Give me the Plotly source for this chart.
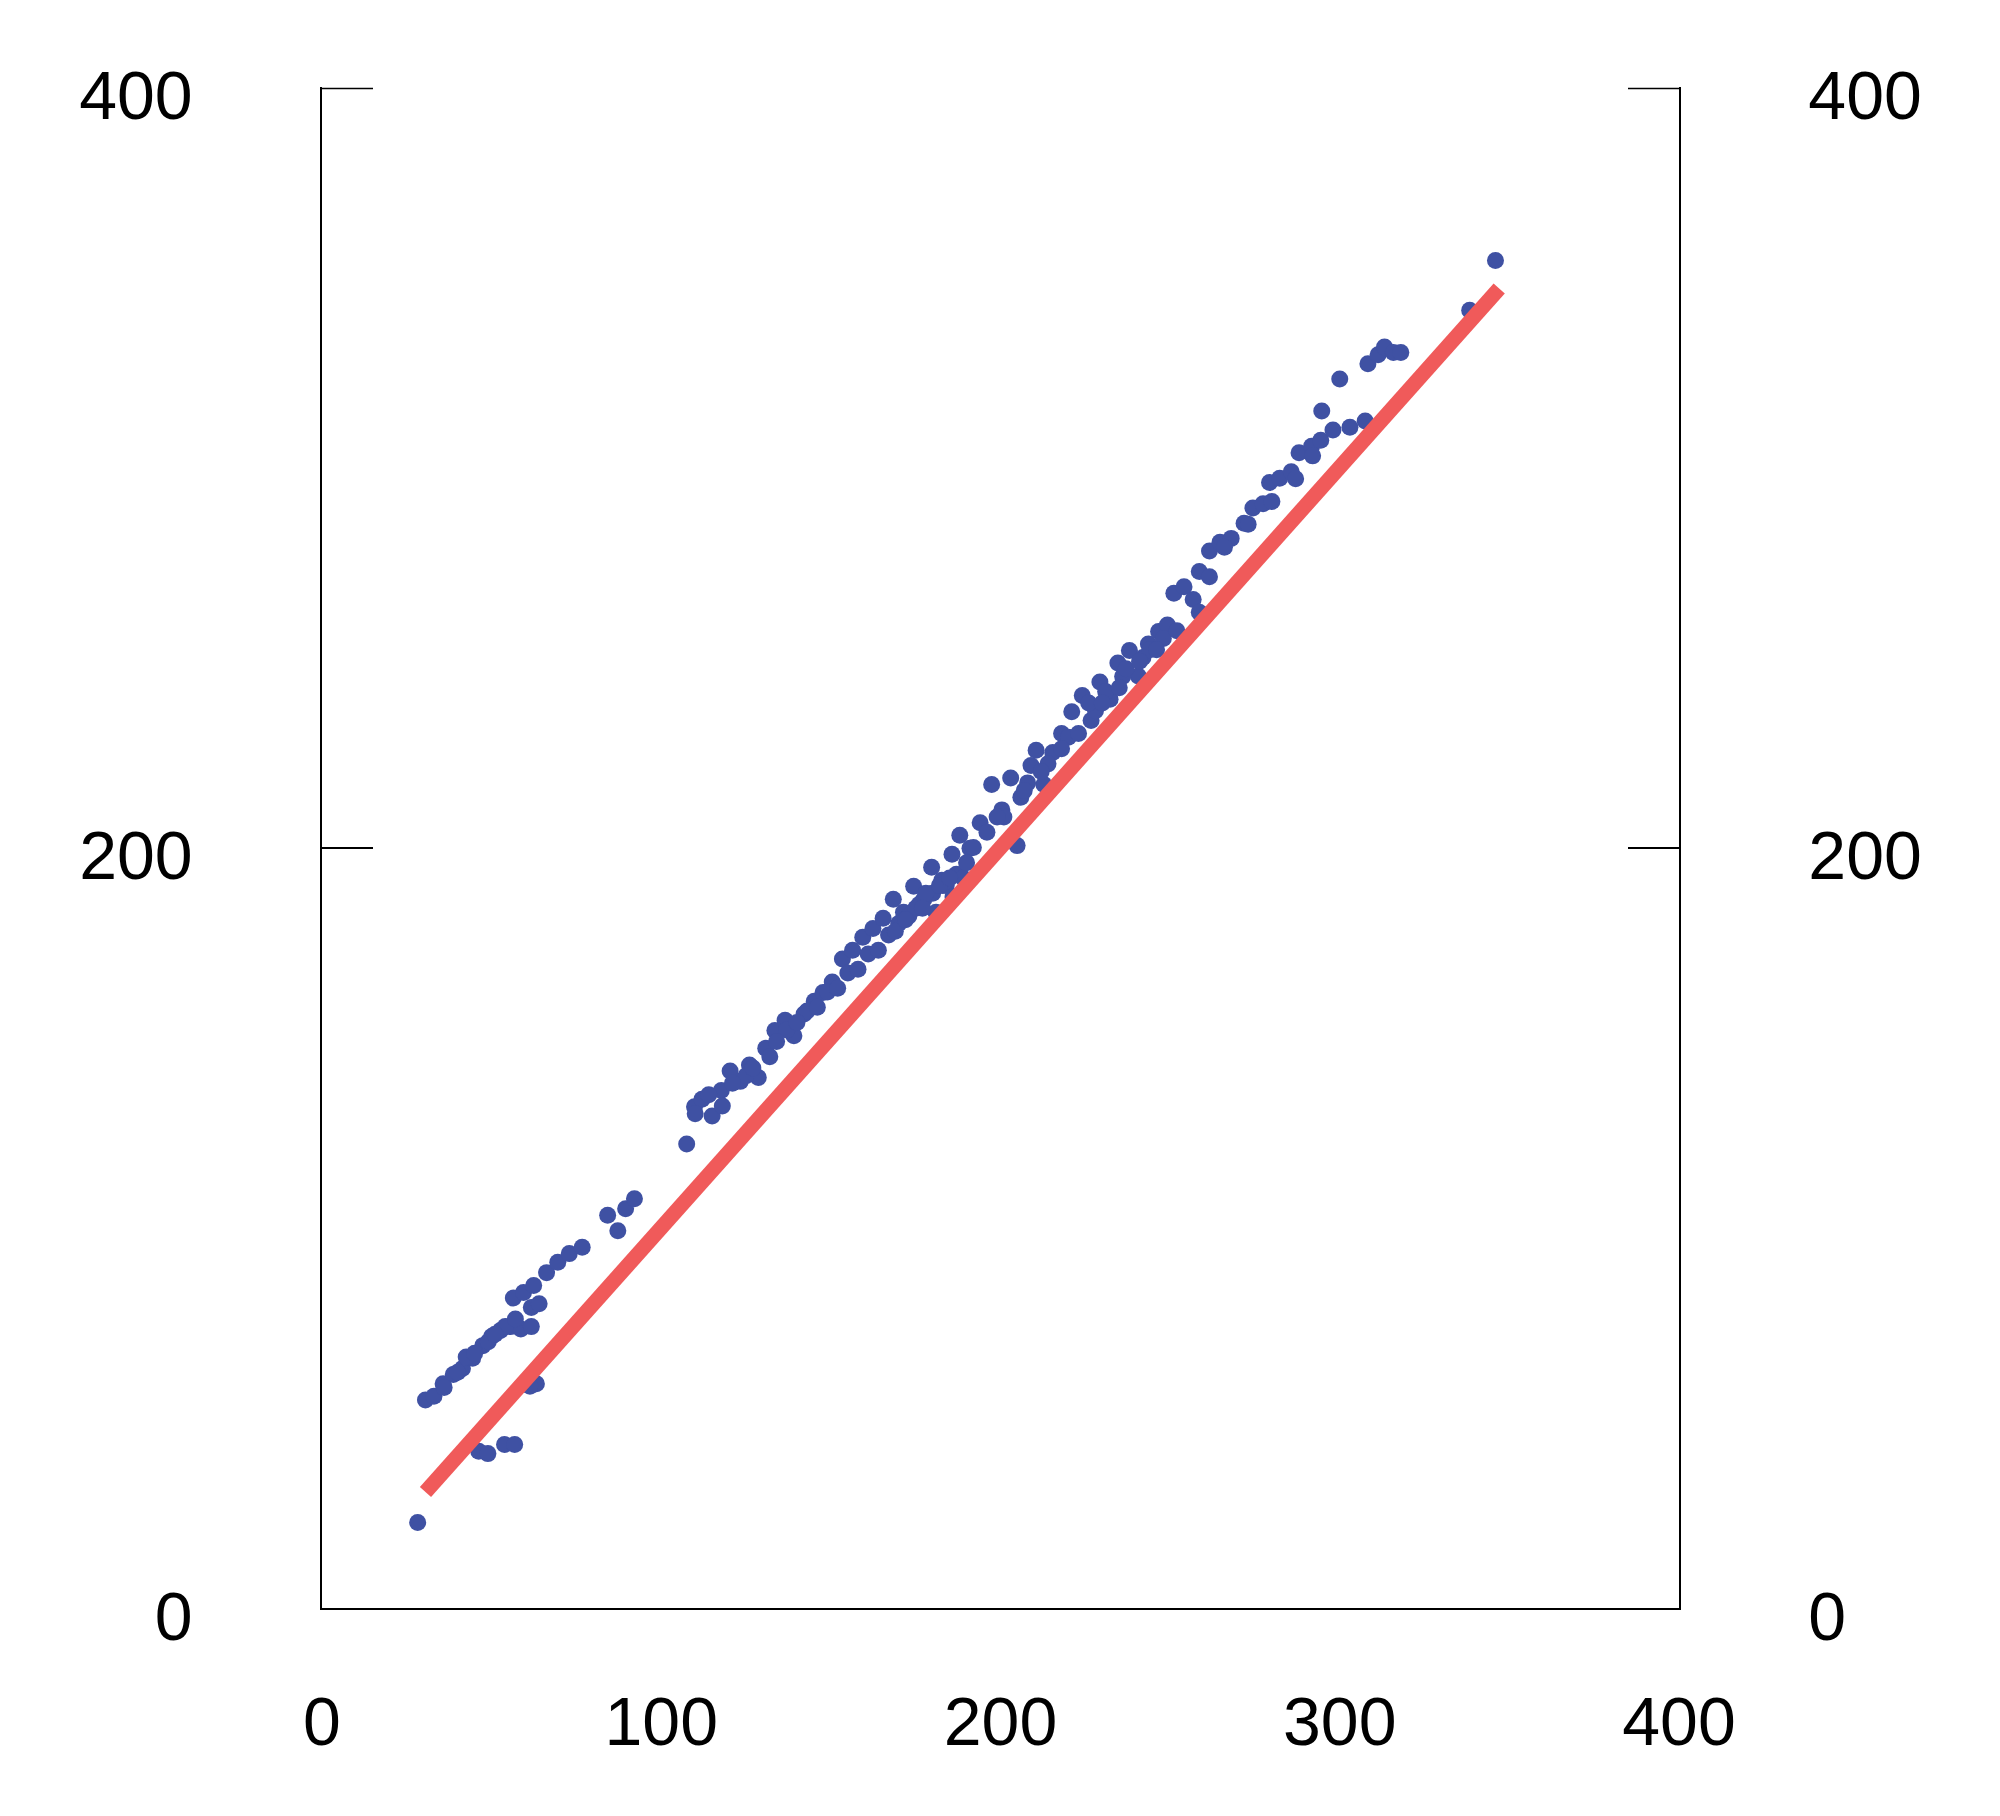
import plotly.graph_objects as go

pts_x = [28.2,30.5,33,35.7,38.7,41.4,44.4,47.4,50,52.6,55.6,58.6,61.7,56.4,59.4,62.4,66.2,69.5,72.9,76.7,61.7,63.2,61.3,46.2,48.9,53.8,56.8,
         84.2,87.2,89.5,92.1,107.5,109.8,112,115,117.7,120.3,123.3,126,128.6,130.8,133.5,136.5,139.1,142.1,145.1,147.7,150.4,153.4,156.4,
         159.4,162.4,165.4,168.4,171.4,174.4,177.4,179.7,182.7,185.7,188,191,194,197.4,200.4,203,204.9,206,209,210.5,212.8,215.4,218,221,
         224.1,226.7,229.3,232.3,234.6,238,240.6,243.6,246.6,249.2,251.1,254.1,256.8,258.6,258.6,261.6,261.6,264.7,268,271.8,274.4,277.4,
         279.3,282.3,285.7,288,291.7,294.4,294.7,298,300,303,307.5,308.3,311.3,313.2,315.8,318,338.3,345.9,
         42.5,49,54,110,118,125,132,137,143,149,155,161,167,173,176,180,184,187,192,196,201,208,214,220,228,236,242,248,
         170,175,178,181,183,186,189,226,231,237,244,
         36,40,45,51,57,64,114,121,127,134,140,146,152,158,164,169,172,177,182,185,190,199,207,212,218,223,230,235,241,246,252,
         266,273,280,287,292]
pts_y = [22.5,54.7,55.7,59,61.4,63,65.7,69,71.4,73,74,73.4,74,81.5,83,84.8,88.2,90.9,93.2,94.9,79,59,58.3,41.2,40.6,43,43,
         103.3,99.2,105,107.6,122,131.8,133.8,129.4,136.1,141.2,138.5,142.8,139.5,147.2,151.9,154.6,150.5,156.2,159.6,161.9,164.6,170.7,173,
         176.4,178.7,181.4,186.4,183,189.8,186.4,194.8,191.4,198.2,203.2,199.8,206.5,216.6,209.9,218.3,200.5,213.2,221.6,225.6,216.6,225,230,235.7,
         240,233.4,243.5,239,248.5,251.8,245.1,253.5,256.8,258.5,266.9,268.6,265.2,261.9,272.6,271.2,278,280.3,281.3,285.3,289.3,290.4,
         296,297.1,298.8,303.8,305.5,307.1,314.8,309.8,323.2,310.5,312.2,327.2,329.6,331.6,330.2,330.2,341.3,354.4,
         66,70,74,130,132,140,145,152,157,162,167,172,177,182,185,188,190,193,200,204,208,217,222,229,236,245,250,255,
         180,184,188,183,190,187,192,238,241,247,252,
         58,62,67,72,76,80,135,138,142,149,154,158,163,168,173,178,181,184,190,192,196,208,215,220,226,230,238,242,249,252,257,
         279,285,291,297,303]
line_x = [30.5, 347]
line_y = [30.5, 347]
y_ticks = [0, 200, 400]

fig = go.Figure()
fig.add_trace(go.Scatter(x=pts_x, y=pts_y, mode="markers",
                         marker=dict(color="#3f51a3", size=17, line=dict(width=0)), showlegend=False))
fig.add_trace(go.Scatter(x=line_x, y=line_y, mode="lines",
                         line=dict(color="#f05a5a", width=15), showlegend=False))
fig.add_trace(go.Scatter(x=[0], y=[0], yaxis="y2", mode="markers",
                         marker=dict(opacity=0), showlegend=False, hoverinfo="skip"))

# top tick marks (plotly drops the tick at the range end)
tl = 51 / (2000 - 314 - 329)
for x0, x1 in [(0, tl), (1 - tl, 1)]:
    fig.add_shape(type="line", xref="paper", yref="y", x0=x0, x1=x1, y0=399.6, y1=399.6,
                  line=dict(color="black", width=1.5))

font = dict(family="Liberation Sans, Arial, sans-serif", size=68, color="black")
fig.update_layout(
    width=2000, height=1816, plot_bgcolor="white", paper_bgcolor="white",
    margin=dict(l=314, r=329, t=79, b=216), font=font,
    xaxis=dict(range=[0, 400], tickvals=[0, 100, 200, 300, 400], showgrid=False, zeroline=False,
               showline=True, linecolor="black", linewidth=2, ticks="", ticklabelstandoff=53),
    yaxis=dict(range=[0, 400.01], tickvals=y_ticks, showgrid=False, zeroline=False,
               showline=True, linecolor="black", linewidth=1.5, ticks="inside", ticklen=51,
               tickcolor="black", tickwidth=1.5, ticklabelstandoff=114, ticklabelshift=8),
    yaxis2=dict(range=[0, 400.01], tickvals=y_ticks, overlaying="y", side="right",
                showgrid=False, zeroline=False, showline=True, linecolor="black", linewidth=1.5,
                ticks="inside", ticklen=51, tickcolor="black", tickwidth=1.5, ticklabelstandoff=114,
                ticklabelshift=8),
)
fig.write_html("out.html")
